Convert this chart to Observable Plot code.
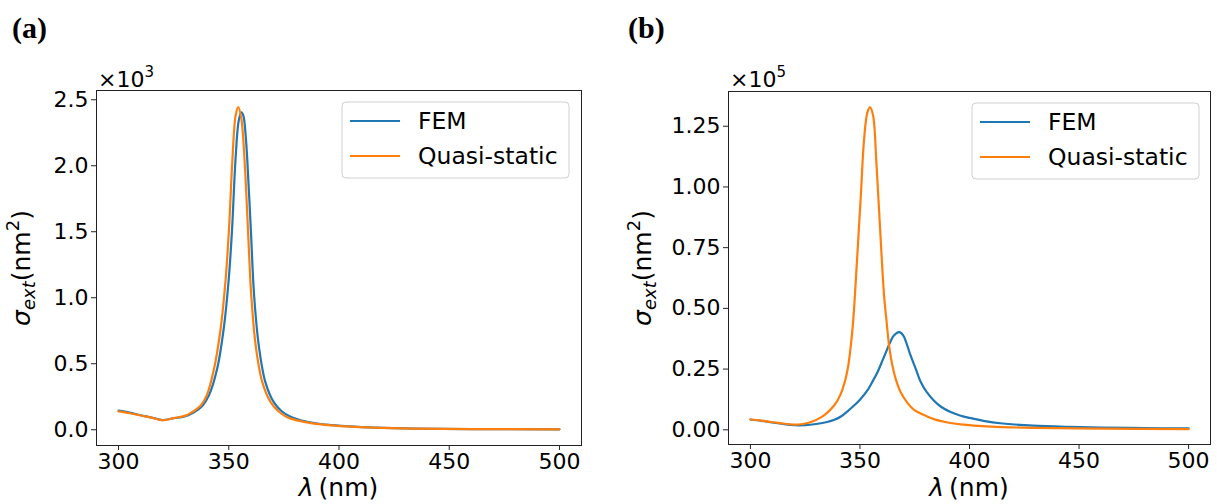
<!DOCTYPE html>
<html>
<head>
<meta charset="utf-8">
<script src="https://cdn.jsdelivr.net/npm/d3@7"></script>
<script src="https://cdn.jsdelivr.net/npm/@observablehq/plot@0.6"></script>
<style>
  body { margin: 0; background: #fff; }
  #wrap { position: relative; width: 1217px; height: 504px; overflow: hidden; background: #fff; }
  .panel { position: absolute; top: 0; }
</style>
</head>
<body>
<div id="wrap"></div>
<script>
// ---------- data ----------
const seriesNames = ["FEM", "Quasi-static"];
const seriesColors = ["#1f77b4", "#ff7f0e"];
const panelLabels = ["(a)", "(b)"];
const exponents = ["3", "5"];
const xTicks = [300, 350, 400, 450, 500];
const yTicksA = [0, 0.5, 1.0, 1.5, 2.0, 2.5];
const yTicksB = [0, 0.25, 0.5, 0.75, 1.0, 1.25];

// Panel (a), sigma_ext in units of 10^3 nm^2
const femA_x = [300, 305, 310, 315, 320, 325, 330, 334, 338, 341, 344.7, 347.7, 350, 351.5, 353, 354.5, 355.7, 356.6, 357.8, 359, 360, 361.5, 363.6, 366.6, 370.4, 374, 378, 383, 390, 397, 405, 416, 435, 460, 500];
const femA_y = [0.145, 0.13, 0.11, 0.093, 0.073, 0.087, 0.10, 0.13, 0.18, 0.26, 0.46, 0.765, 1.144, 1.52, 2.03, 2.34, 2.405, 2.38, 2.2, 1.85, 1.52, 1.017, 0.639, 0.361, 0.209, 0.14, 0.098, 0.07, 0.047, 0.035, 0.025, 0.016, 0.008, 0.005, 0.003];
const quasiA_x = [300, 305, 310, 315, 320, 325, 330, 333, 337.3, 340, 343.3, 346.3, 348.6, 350.1, 351.6, 353.1, 354.3, 355.7, 357.2, 358.7, 360.2, 362.2, 365.2, 369, 372.5, 376.5, 381, 388, 395, 404, 415, 434, 460, 500];
const quasiA_y = [0.139, 0.125, 0.108, 0.092, 0.072, 0.088, 0.105, 0.13, 0.184, 0.26, 0.46, 0.765, 1.144, 1.52, 2.03, 2.38, 2.445, 2.356, 2.03, 1.52, 1.017, 0.639, 0.361, 0.209, 0.14, 0.095, 0.071, 0.048, 0.035, 0.025, 0.016, 0.008, 0.005, 0.003];

// Panel (b), sigma_ext in units of 10^5 nm^2
const femB_x = [300, 305, 310, 315, 320, 325, 330, 335, 338.3, 341.3, 344.3, 347.3, 350, 353.4, 355.5, 358, 360.5, 362.5, 364, 365.5, 367.8, 369, 370.1, 371.5, 373.1, 375.5, 377.7, 380.5, 383.7, 387, 391.4, 396, 400, 407, 414, 429, 445, 460, 480, 500];
const femB_y = [0.0425, 0.037, 0.03, 0.024, 0.019, 0.019, 0.024, 0.032, 0.041, 0.055, 0.076, 0.10, 0.124, 0.162, 0.195, 0.237, 0.29, 0.333, 0.365, 0.388, 0.402, 0.397, 0.383, 0.35, 0.306, 0.25, 0.198, 0.155, 0.121, 0.095, 0.073, 0.058, 0.049, 0.036, 0.027, 0.017, 0.012, 0.0095, 0.007, 0.0055];
const quasiB_x = [300, 305, 310, 315, 320, 324, 328, 332, 335, 338.2, 340, 342, 344.3, 346.6, 348.6, 350.4, 351.9, 353.4, 354.6, 356, 357.5, 359.2, 361, 362, 363.3, 364.8, 366.3, 368.6, 371.6, 374.7, 380.7, 384, 390, 396, 410, 430, 460, 500];
const quasiB_y = [0.0425, 0.038, 0.031, 0.026, 0.021, 0.024, 0.033, 0.05, 0.07, 0.10, 0.125, 0.165, 0.245, 0.416, 0.69, 0.965, 1.198, 1.307, 1.328, 1.294, 1.10, 0.827, 0.553, 0.46, 0.347, 0.265, 0.21, 0.155, 0.112, 0.082, 0.055, 0.043, 0.03, 0.022, 0.013, 0.008, 0.005, 0.003];

// ---------- build ----------
function rowsOf(xs, ys, name) { return xs.map((x, i) => ({ x, y: ys[i], series: name })); }

const FONT = "DejaVu Sans";
const wrap = document.getElementById("wrap");

function makePanel(cfg) {
  const rows = rowsOf(cfg.femX, cfg.femY, seriesNames[0]).concat(rowsOf(cfg.quasiX, cfg.quasiY, seriesNames[1]));
  const svg = Plot.plot({
    width: cfg.width, height: 504,
    marginLeft: cfg.ml, marginRight: cfg.mr, marginTop: cfg.mt, marginBottom: cfg.mb,
    style: { fontFamily: FONT, color: "black", background: "white", overflow: "visible" },
    x: { domain: [290, 510] },
    y: { domain: cfg.yDomain },
    color: { domain: seriesNames, range: seriesColors },
    marks: [
      Plot.line(rows, { x: "x", y: "y", z: "series", stroke: "series", curve: "catmull-rom", strokeWidth: 2.2 }),
      Plot.frame({ stroke: "#222", strokeWidth: 1 }),
      Plot.axisX(xTicks, { tickSize: 5, tickPadding: 3, fontSize: 22, label: null, tickFormat: d => String(d), stroke: "#222" }),
      Plot.axisY(cfg.yTicks, { tickSize: 5, tickPadding: 3, fontSize: 22, label: null, tickFormat: d3.format(cfg.fmt), stroke: "#222" })
    ]
  });
  svg.classList.add("panel");
  svg.style.left = cfg.left + "px";
  const s = d3.select(svg);

  // panel label
  s.append("text").attr("x", cfg.labelX).attr("y", 38).attr("text-anchor", "start")
    .attr("font-family", "Liberation Serif").attr("font-weight", "bold").attr("font-size", 30)
    .attr("fill", "black").text(cfg.label);

  // offset text ×10^n
  const off = s.append("text").attr("x", cfg.offX).attr("y", 87).attr("text-anchor", "start")
    .attr("font-family", FONT).attr("font-size", 22).attr("fill", "black");
  off.append("tspan").text("\u00d710");
  off.append("tspan").attr("font-size", 15).attr("dy", -10).text(cfg.exp);

  // y label
  const yl = s.append("text")
    .attr("transform", `translate(${cfg.ylX},268) rotate(-90)`)
    .attr("text-anchor", "middle").attr("font-family", FONT).attr("font-size", 25).attr("fill", "black");
  yl.append("tspan").attr("font-style", "italic").text("\u03c3");
  yl.append("tspan").attr("font-style", "italic").attr("font-size", 18).attr("dy", 5).text("ext");
  yl.append("tspan").attr("dy", -5).text("(nm");
  yl.append("tspan").attr("font-size", 18).attr("dy", -11).text("2");
  yl.append("tspan").attr("dy", 11).text(")");

  // x label
  const xl = s.append("text").attr("x", cfg.xlX).attr("y", 496)
    .attr("text-anchor", "middle").attr("font-family", FONT).attr("font-size", 25).attr("fill", "black");
  xl.append("tspan").attr("font-style", "italic").text("\u03bb");
  xl.append("tspan").text("\u2009(nm)");

  // legend
  const lg = s.append("g").attr("transform", `translate(${cfg.legX},${cfg.legY})`);
  lg.append("rect").attr("width", 227).attr("height", 76).attr("rx", 4)
    .attr("fill", "white").attr("fill-opacity", 0.8).attr("stroke", "#d0d0d0").attr("stroke-width", 1);
  seriesNames.forEach((name, i) => {
    const yy = 19 + i * 35;
    lg.append("line").attr("x1", 8).attr("x2", 58).attr("y1", yy).attr("y2", yy)
      .attr("stroke", seriesColors[i]).attr("stroke-width", 2.2);
    lg.append("text").attr("x", 76).attr("y", yy).attr("dy", "0.36em").attr("text-anchor", "start")
      .attr("font-family", FONT).attr("font-size", 23.5).attr("fill", "black").text(name);
  });
  wrap.appendChild(svg);
}

makePanel({
  left: 0, width: 608, ml: 96, mr: 27, mt: 90, mb: 59,
  yDomain: [-0.1195, 2.57], yTicks: yTicksA, fmt: ".1f",
  femX: femA_x, femY: femA_y, quasiX: quasiA_x, quasiY: quasiA_y,
  label: panelLabels[0], labelX: 12, offX: 98, exp: exponents[0],
  ylX: 30, xlX: 338.5, legX: 342, legY: 102
});
makePanel({
  left: 608, width: 609, ml: 120, mr: 7, mt: 91, mb: 60,
  yDomain: [-0.0605, 1.393], yTicks: yTicksB, fmt: ".2f",
  femX: femB_x, femY: femB_y, quasiX: quasiB_x, quasiY: quasiB_y,
  label: panelLabels[1], labelX: 20, offX: 122, exp: exponents[1],
  ylX: 43, xlX: 361, legX: 364, legY: 103
});
</script>
</body>
</html>
